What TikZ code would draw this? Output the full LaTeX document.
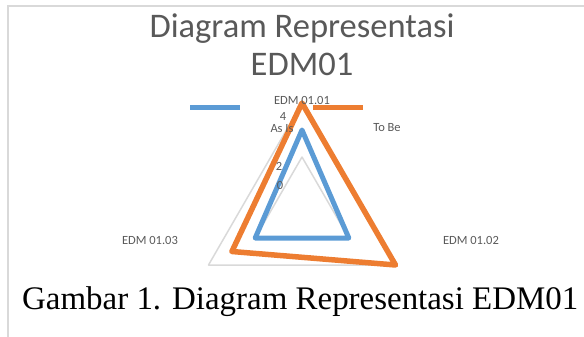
\documentclass[tikz,border=0pt]{standalone}
\usepackage{fontspec}
\setmainfont{Carlito}
\newfontfamily\capfont{Liberation Serif}
\definecolor{txtgray}{HTML}{595959}
\definecolor{gridgray}{HTML}{D9D9D9}
\definecolor{framegray}{HTML}{D9D9D9}
\definecolor{asisblue}{HTML}{5B9BD5}
\definecolor{tobeorange}{HTML}{ED7D31}
\begin{document}
\begin{tikzpicture}[x=1pt,y=-1pt,
  lbl/.style={text=txtgray,font=\fontsize{12.5}{15}\selectfont,inner sep=0pt},
  ttl/.style={text=txtgray,font=\fontsize{34.5}{38}\selectfont,inner sep=0pt},
  ring/.style={draw=gridgray,line width=1.5pt,line join=round},
  series/.style={line width=5pt,line join=round,line cap=round},
]
\useasboundingbox (0,0) rectangle (584,337);
\draw[draw=framegray,line width=1.5pt] (8,337) -- (8,6) -- (584,6);
% title
\node[ttl] (t1) at (302,29) {Diagram Representasi};
\node[ttl] (t2) at (302,64) {EDM01};
% grid rings
\coordinate (g4a) at (302,103);
\coordinate (g4b) at (395.5,265);
\coordinate (g4c) at (208.5,265);
\coordinate (g2a) at (302,157);
\coordinate (g2b) at (348.8,238);
\coordinate (g2c) at (255.2,238);
\draw[ring] (g4a) -- (g4b) -- (g4c) -- cycle;
\draw[ring] (g2a) -- (g2b) -- (g2c) -- cycle;
% series
\coordinate (b1) at (302,130);
\coordinate (b2) at (348.8,238);
\coordinate (b3) at (255.2,238);
\coordinate (o1) at (302,103);
\coordinate (o2) at (395.5,265);
\coordinate (o3) at (231.9,251.5);
\draw[series,draw=asisblue] (b1) -- (b2) -- (b3) -- cycle;
\draw[series,draw=tobeorange,line width=5.5pt] (o1) -- (o2) -- (o3) -- cycle;
% legend
\coordinate (lb1) at (190,107);
\coordinate (lb2) at (240,107);
\coordinate (lo1) at (313,107);
\coordinate (lo2) at (363,107);
\draw[line width=5pt,draw=asisblue] (lb1) -- (lb2);
\draw[line width=5pt,draw=tobeorange] (lo1) -- (lo2);
% labels
\node[lbl] (ax1) at (302,100) {EDM 01.01};
\node[lbl] (ax2) at (471,240) {EDM 01.02};
\node[lbl] (ax3) at (150,240) {EDM 01.03};
\node[lbl] (asis) at (282,128.5) {As Is};
\node[lbl] (tobe) at (387,128) {To Be};
\node[lbl] (v4) at (283,116) {4};
\node[lbl] (v2) at (279,166) {2};
\node[lbl] (v0) at (280,185) {0};
% caption
\node[anchor=west,inner sep=0pt] (cap) at (22,302) {\resizebox{556pt}{!}{\capfont Gambar 1. Diagram Representasi EDM01}};
\end{tikzpicture}
\end{document}
